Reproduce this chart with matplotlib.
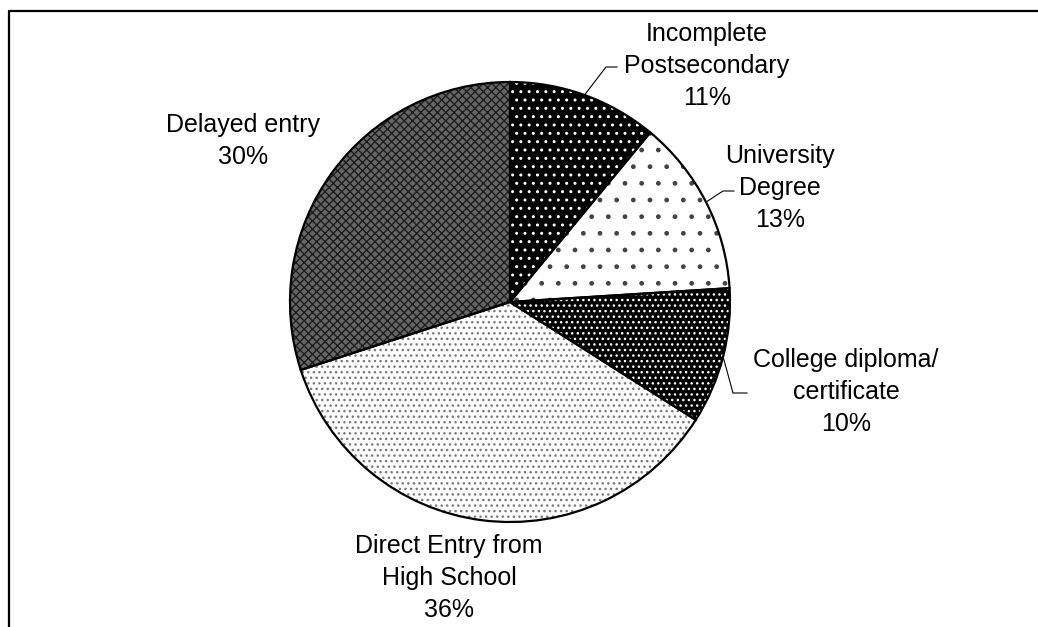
import matplotlib.pyplot as plt
import numpy as np

plt.rcParams['font.family'] = ['Liberation Sans', 'DejaVu Sans']

# slices, clockwise from 12 o'clock
categories = ['Incomplete\nPostsecondary', 'University\nDegree',
              'College diploma/\ncertificate', 'Direct Entry from\nHigh School',
              'Delayed entry']
shares = [11, 13, 10, 36, 30]

# greyscale fill patterns
faces = ['black', 'white', 'black', 'white', '#666666']
hatch_colors = ['white', '#444444', 'white', '#7a7a7a', '#1e1e1e']
hatches = ['..', '.', '...', '...', 'xxxx']

W, H = 1038, 627
fig = plt.figure(figsize=(W / 100, H / 100), dpi=100)
ax = fig.add_axes([0, 0, 1, 1])

cx, cy, r = 510, H - 302, 220

wedges, _ = ax.pie(shares, startangle=90, counterclock=False, center=(cx, cy),
                   radius=r, colors=faces, wedgeprops=dict(linewidth=0))
for w, h, hc in zip(wedges, hatches, hatch_colors):
    w.set_hatch(h)
    w.set_edgecolor(hc)

# outlines on top
ax.pie(shares, startangle=90, counterclock=False, center=(cx, cy), radius=r,
       wedgeprops=dict(fill=False, edgecolor='black', linewidth=1.6))

# label centres (pixels from top-left)
label_pos = [(707, 66), (780, 188), (846, 392), (449, 578), (243, 141)]
for cat, s, (x, y) in zip(categories, shares, label_pos):
    ax.text(x, H - y, f'{cat}\n{s}%', ha='center', va='center',
            fontsize=18, linespacing=1.42)

# leader lines from slice mid-angle to label
elbows = {0: [(606, 67), (617, 67)], 1: [(723, 191), (734, 191)],
          2: [(733, 393), (747, 393)]}
cum = np.cumsum([0] + shares)
for i, pts in elbows.items():
    mid = np.deg2rad(90 - (cum[i] + shares[i] / 2) * 3.6)
    xs = [cx + r * np.cos(mid)] + [p[0] for p in pts]
    ys = [cy + r * np.sin(mid)] + [H - p[1] for p in pts]
    ax.plot(xs, ys, color='black', lw=0.8)

# frame of the figure box
ax.plot([9, 9, W + 5], [-5, H - 11, H - 11], color='black', lw=1.6, clip_on=False)

ax.set_xlim(0, W)
ax.set_ylim(0, H)
ax.axis('off')

fig.savefig('out.png', dpi=100)
